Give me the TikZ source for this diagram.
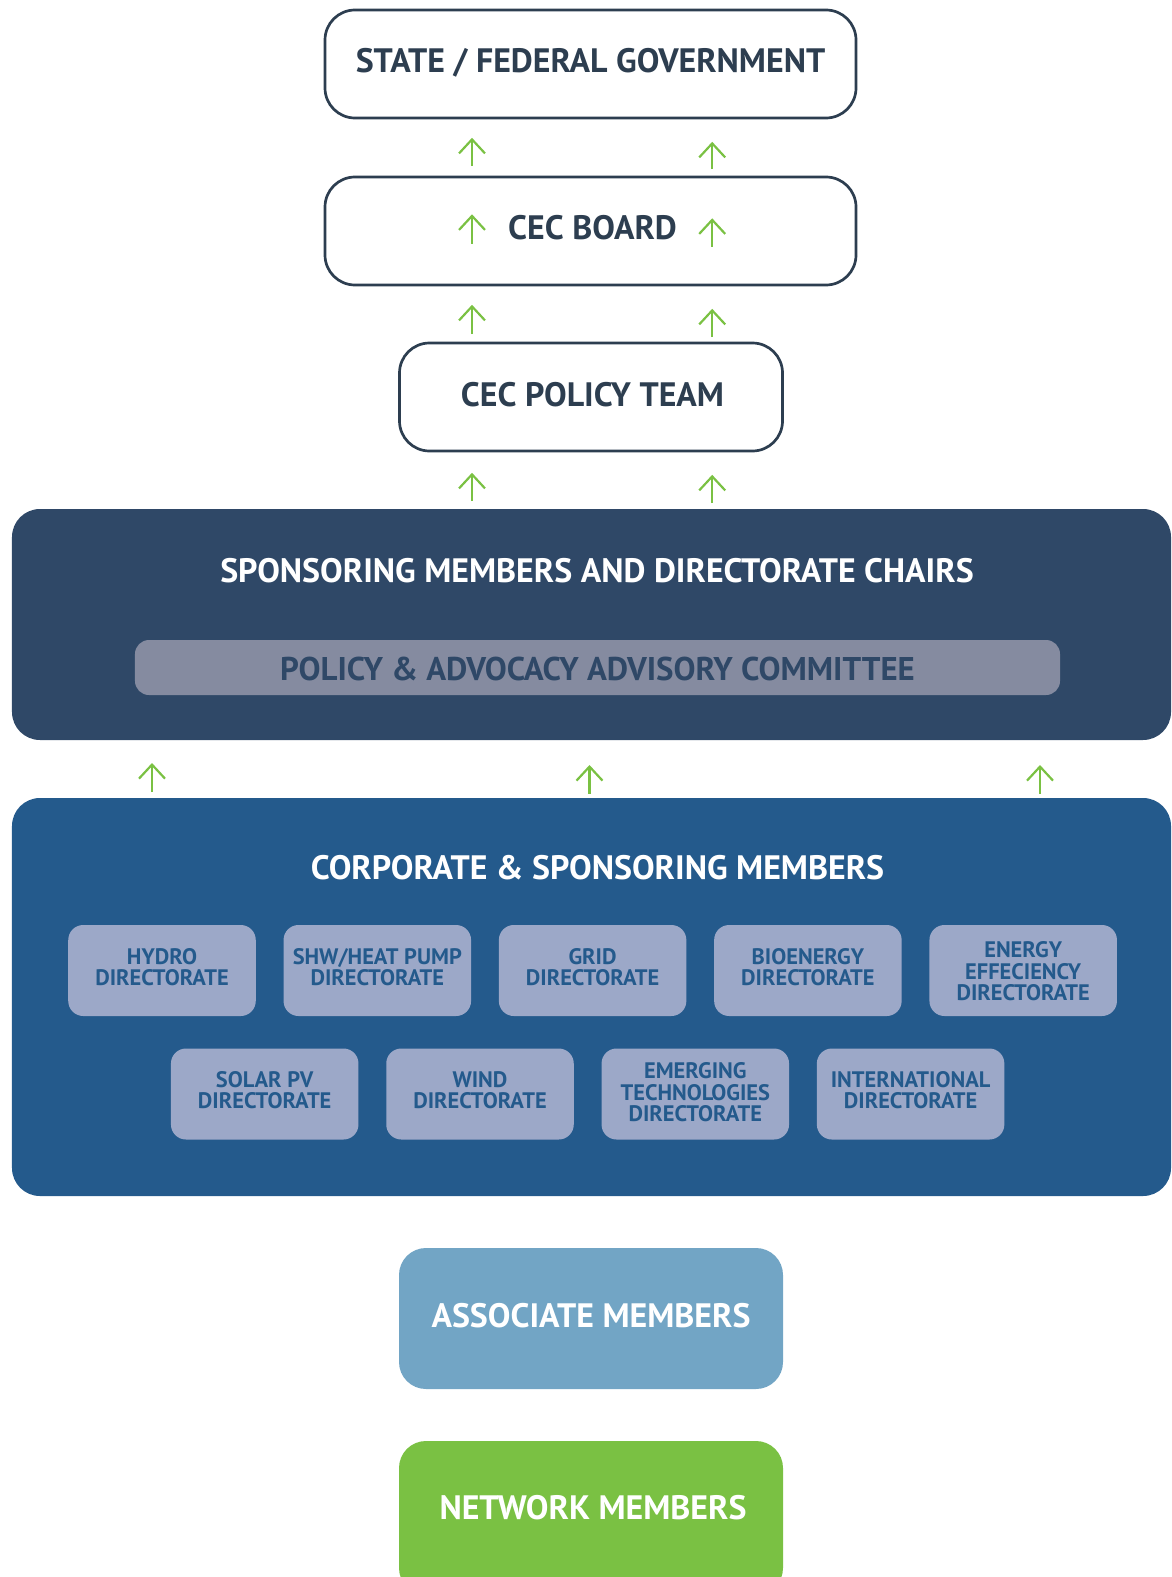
\documentclass[tikz,border=0pt]{standalone}
\usepackage{fontspec}
\setmainfont{PT Sans}
\usetikzlibrary{arrows.meta}
\definecolor{navy}{HTML}{2D3E50}
\definecolor{leaf}{HTML}{7AC143}
\definecolor{spons}{HTML}{2F4867}
\definecolor{policy}{HTML}{858BA0}
\definecolor{corp}{HTML}{245A8C}
\definecolor{direc}{HTML}{9CA8C8}
\definecolor{assoc}{HTML}{72A5C5}
\tikzset{
  whitebox/.style={draw=navy, line width=2.7bp, fill=white, rounded corners=30bp, inner sep=0pt},
  bigbox/.style={rounded corners=28bp, inner sep=0pt},
  dirbox/.style={fill=direc, rounded corners=15bp, minimum width=187.5bp, minimum height=91bp, inner sep=0pt},
  dirtext/.style={text=corp, align=center, inner sep=0pt, font=\bfseries\fontsize{22.5}{21.5}\selectfont},
  colbox/.style={rounded corners=27bp, minimum width=384bp, inner sep=0pt},
  uparrow/.style={draw=leaf, line width=2.2bp, -{Straight Barb[length=14bp,width=26bp,line width=2.2bp]}},
  lbl/.style={inner sep=0pt, anchor=base, font=\bfseries\fontsize{34}{34}\selectfont}
}
\begin{document}
\begin{tikzpicture}[x=1bp,y=-1bp]
\useasboundingbox (0,0) rectangle (1171,1577);
\clip (0,0) rectangle (1171,1577);

% top three white boxes
\node[whitebox, minimum width=531bp, minimum height=108bp] (gov) at (590.5,64) {};
\node[lbl, text=navy] (govt) at (590.5,73) {STATE / FEDERAL GOVERNMENT};
\node[whitebox, minimum width=531bp, minimum height=108bp] (board) at (590.5,231) {};
\node[lbl, text=navy] (boardt) at (592.5,239.4) {CEC BOARD};
\node[whitebox, minimum width=383bp, minimum height=108bp] (team) at (591,397) {};
\node[lbl, text=navy] (teamt) at (592.5,406.4) {CEC POLICY TEAM};

% sponsoring block
\node[bigbox, fill=spons, minimum width=1159bp, minimum height=231bp] (spons) at (591.5,624.5) {};
\node[lbl, text=white] (sponst) at (597,582.5) {SPONSORING MEMBERS AND DIRECTORATE CHAIRS};
\node[fill=policy, rounded corners=14bp, minimum width=925bp, minimum height=55bp, inner sep=0pt] (pac) at (597.5,667.5) {};
\node[lbl, text=spons, font=\bfseries\fontsize{33}{33}\selectfont] (pact) at (597.5,680.5) {POLICY \& ADVOCACY ADVISORY COMMITTEE};

% corporate block
\node[bigbox, fill=corp, minimum width=1159bp, minimum height=398bp] (corp) at (591.5,997) {};
\node[lbl, text=white] (corpt) at (597.5,879) {CORPORATE \& SPONSORING MEMBERS};

% directorates, first row
\node[dirbox] (hydro) at (162,970.5) {};
\node[dirtext] (hydrot) at (162,967) {HYDRO\\DIRECTORATE};
\node[dirbox] (shw) at (377.3,970.5) {};
\node[dirtext] (shwt) at (377.3,967) {SHW/HEAT PUMP\\DIRECTORATE};
\node[dirbox] (grid) at (592.6,970.5) {};
\node[dirtext] (gridt) at (592.6,967) {GRID\\DIRECTORATE};
\node[dirbox] (bio) at (807.9,970.5) {};
\node[dirtext] (biot) at (807.9,967) {BIOENERGY\\DIRECTORATE};
\node[dirbox] (eff) at (1023.2,970.5) {};
\node[dirtext] (efft) at (1023.2,971.5) {ENERGY\\EFFECIENCY\\DIRECTORATE};
% second row
\node[dirbox] (solar) at (264.7,1094) {};
\node[dirtext] (solart) at (264.7,1090) {SOLAR PV\\DIRECTORATE};
\node[dirbox] (wind) at (480,1094) {};
\node[dirtext] (windt) at (480,1090) {WIND\\DIRECTORATE};
\node[dirbox] (emer) at (695.3,1094) {};
\node[dirtext] (emert) at (695.3,1092.5) {EMERGING\\TECHNOLOGIES\\DIRECTORATE};
\node[dirbox] (intl) at (910.6,1094) {};
\node[dirtext] (intlt) at (910.6,1090) {INTERNATIONAL\\DIRECTORATE};

% member boxes
\node[colbox, fill=assoc, minimum height=141bp] (assoc) at (591,1318.5) {};
\node[lbl, text=white] (assoct) at (591,1327) {ASSOCIATE MEMBERS};
\node[colbox, fill=leaf, minimum height=154bp] (net) at (591,1518) {};
\node[lbl, text=white] (nett) at (593,1519) {NETWORK MEMBERS};

% arrow end points
\foreach \n/\x/\yb/\yt in {a1/472/166/137.8, a2/712.2/169/141.8,
                           a3/472/243.5/214.3, a4/712.2/246.5/218.3,
                           a5/472/334/304.8, a6/712.2/337/308.8,
                           a7/472/501/472.8, a8/712.2/503/474.8,
                           a9/152/792/763, a10/589.5/793.5/765, a11/1040/793.5/765}{
  \coordinate (\n s) at (\x,\yb);
  \coordinate (\n e) at (\x,\yt);
}
\foreach \n in {a1,a2,a3,a4,a5,a6,a7,a8,a9,a10,a11}{
  \draw[uparrow] (\n s) -- (\n e);
}
\end{tikzpicture}
\end{document}
